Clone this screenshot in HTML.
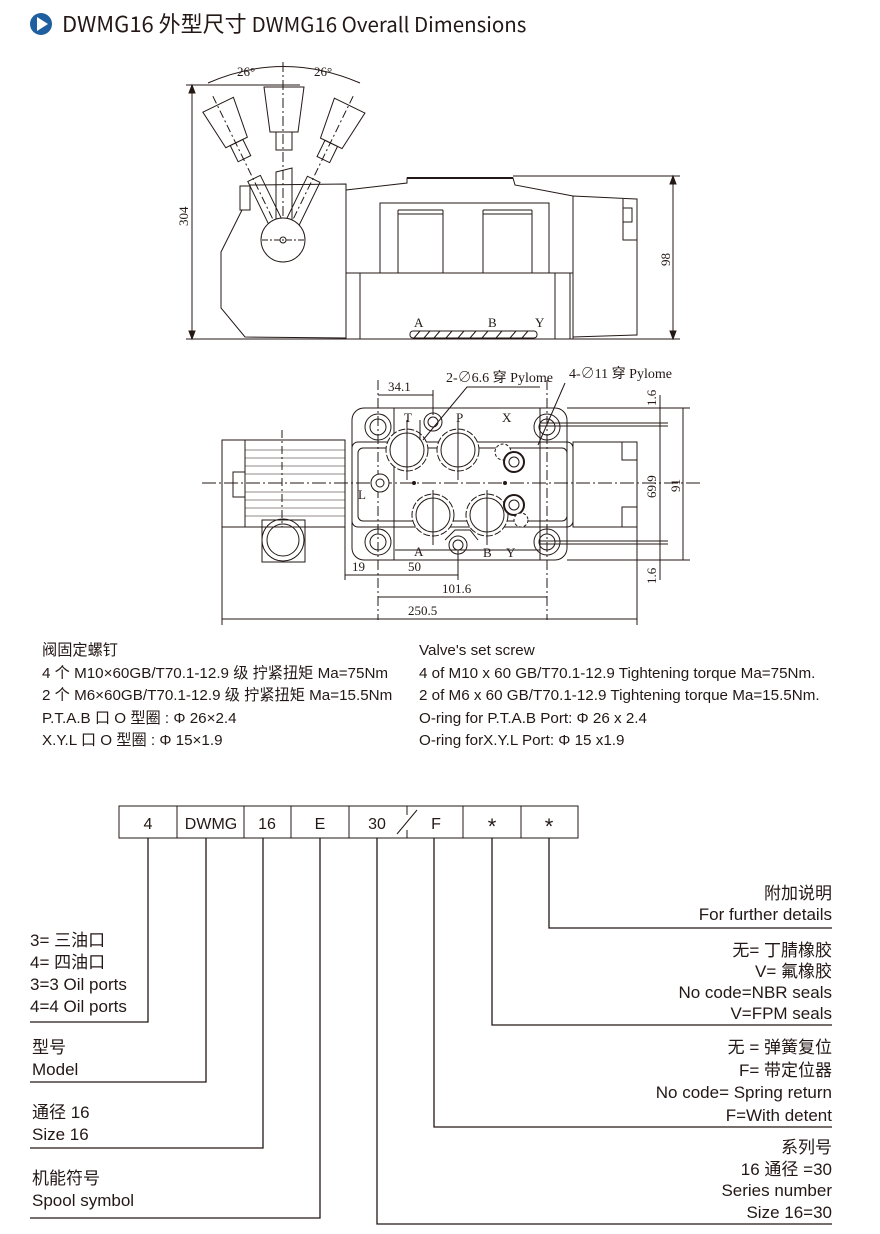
<!DOCTYPE html>
<html><head><meta charset="utf-8"><style>
html,body{margin:0;padding:0;background:#fff;}
body{width:880px;height:1234px;position:relative;overflow:hidden;font-family:"Liberation Sans","Noto Sans CJK SC",sans-serif;color:#231815;}
.t{position:absolute;white-space:nowrap;}
</style></head><body>
<svg width="880" height="1234" style="position:absolute;left:0;top:0" xmlns="http://www.w3.org/2000/svg">
<circle cx="41" cy="24" r="11" fill="#1f5fa0"/>
<polygon points="37,17 37,31 48,24" fill="#fff"/>
<text x="62" y="32" font-size="22" fill="#231815" font-family="Noto Sans CJK SC, sans-serif">DWMG16 外型尺寸 <tspan font-size="20.5">DWMG16 Overall Dimensions</tspan></text>

<g fill="none" stroke="#231815" stroke-width="1" font-family="Liberation Serif, Noto Serif CJK SC, serif">
<line x1="192" y1="85" x2="192" y2="339"/>
<line x1="186" y1="85" x2="300" y2="85"/>
<line x1="186" y1="339" x2="680" y2="339"/>
<polygon points="192,85 189,93 195,93" fill="#231815"/>
<polygon points="192,339 189,331 195,331" fill="#231815"/>
<text x="0" y="0" font-size="13" fill="#231815" stroke="none" transform="translate(188,226) rotate(-90)">304</text>
<path d="M208,83 Q283,50 360,83"/>
<line x1="283" y1="62" x2="283" y2="245" stroke-dasharray="10,3,2,3"/>
<text x="237" y="76" font-size="13" fill="#231815" stroke="none">26°</text>
<text x="314" y="76" font-size="13" fill="#231815" stroke="none">26°</text>
<polygon points="264,87 304,87 298,132 270,132"/>
<polygon points="276,132 292,132 292,150 276,150"/>
<g transform="rotate(-26 283 240)"><polygon points="267,90 301,90 296,132 272,132"/><polygon points="277,132 291,132 291,150 277,150"/><line x1="283" y1="80" x2="283" y2="240" stroke-dasharray="8,3,2,3"/></g>
<g transform="rotate(26 283 240)"><polygon points="267,90 301,90 296,132 272,132"/><polygon points="277,132 291,132 291,150 277,150"/><line x1="283" y1="80" x2="283" y2="240" stroke-dasharray="8,3,2,3"/></g>
<polygon points="276,172 292,168 292,230 276,230"/>
<g transform="rotate(-26 283 240)"><rect x="277" y="172" width="14" height="58"/></g>
<g transform="rotate(26 283 240)"><rect x="277" y="172" width="14" height="58"/></g>
<polyline points="250,185 346,184 346,338 245,337 221,308 221,252 242,210"/>
<rect x="240" y="186" width="10" height="24"/>
<circle cx="283" cy="240" r="22" fill="#fff"/>
<circle cx="283" cy="240" r="3"/>
<line x1="262" y1="240" x2="305" y2="240" stroke-dasharray="6,2,2,2"/>
<polyline points="346,190 407,183 407,178 513,178 515,185 573,196"/>
<line x1="407" y1="178" x2="513" y2="178" stroke-width="2"/>
<rect x="346" y="273" width="227" height="66"/>
<line x1="360" y1="273" x2="360" y2="339"/>
<line x1="555" y1="273" x2="555" y2="339"/>
<line x1="570" y1="273" x2="570" y2="339"/>
<rect x="380" y="203" width="169" height="70"/>
<line x1="398" y1="210" x2="398" y2="273"/><line x1="443" y1="210" x2="443" y2="273"/>
<line x1="483" y1="210" x2="483" y2="273"/><line x1="532" y1="210" x2="532" y2="273"/>
<line x1="398" y1="210" x2="443" y2="210"/><line x1="483" y1="210" x2="532" y2="210"/>
<line x1="398" y1="214" x2="443" y2="214"/><line x1="483" y1="214" x2="532" y2="214"/>
<polygon points="573,196 637,199 637,240 637,335 573,337"/>
<polyline points="623,199 623,240 637,240"/>
<rect x="623" y="208" width="9" height="14"/>
<line x1="513" y1="176" x2="680" y2="176"/>
<line x1="673" y1="176" x2="673" y2="339"/>
<polygon points="673,176 670,184 676,184" fill="#231815"/>
<polygon points="673,339 670,331 676,331" fill="#231815"/>
<text font-size="13" fill="#231815" stroke="none" transform="translate(670,266) rotate(-90)">98</text>
<text x="414" y="327" font-size="13" fill="#231815" stroke="none">A</text>
<text x="488" y="327" font-size="13" fill="#231815" stroke="none">B</text>
<text x="535" y="327" font-size="13" fill="#231815" stroke="none">Y</text>
<rect x="410" y="331" width="127" height="7" rx="3"/>
<path d="M414,338 l6,-7 M424,338 l6,-7 M434,338 l6,-7 M446,338 l6,-7 M458,338 l6,-7 M470,338 l6,-7 M482,338 l6,-7 M496,338 l6,-7 M510,338 l6,-7 M522,338 l6,-7"/>

<line x1="202" y1="483" x2="700" y2="483" stroke-dasharray="14,3,2,3"/>
<rect x="222" y="440" width="123" height="87"/>
<line x1="245" y1="440" x2="245" y2="527"/>
<rect x="233" y="472" width="12" height="25"/>
<path d="M245,450 H345 M245,458 H345 M245,466 H345 M245,474 H345 M245,492 H345 M245,500 H345 M245,508 H345 M245,516 H345" stroke-width="0.6"/>
<line x1="282" y1="430" x2="282" y2="527" stroke-dasharray="8,3,2,3"/>
<rect x="262" y="520" width="43" height="42"/>
<circle cx="283" cy="540" r="21"/><circle cx="283" cy="540" r="16"/>
<rect x="352" y="408" width="215" height="152" rx="12"/>
<rect x="352" y="442" width="221" height="85" rx="6"/>
<rect x="358" y="448" width="209" height="73" rx="5"/>
<line x1="394" y1="408" x2="394" y2="560"/><line x1="540" y1="408" x2="540" y2="560"/>
<circle cx="378" cy="427" r="13"/><circle cx="378" cy="427" r="8"/>
<circle cx="547" cy="427" r="13"/><circle cx="547" cy="427" r="8"/>
<circle cx="378" cy="542" r="13"/><circle cx="378" cy="542" r="8"/>
<circle cx="547" cy="542" r="13"/><circle cx="547" cy="542" r="8"/>
<line x1="378" y1="380" x2="378" y2="620" stroke-dasharray="10,3,2,3"/>
<line x1="547" y1="380" x2="547" y2="620" stroke-dasharray="10,3,2,3"/>
<g fill="#fff">
<circle cx="407" cy="450" r="21" stroke-dasharray="7,2"/><circle cx="407" cy="450" r="17"/>
<circle cx="458" cy="450" r="21" stroke-dasharray="7,2"/><circle cx="458" cy="450" r="17"/>
<circle cx="433" cy="515" r="21" stroke-dasharray="7,2"/><circle cx="433" cy="515" r="17"/>
<circle cx="487" cy="515" r="21" stroke-dasharray="7,2"/><circle cx="487" cy="515" r="17"/>
<circle cx="433" cy="422" r="9"/><circle cx="433" cy="422" r="5"/>
<circle cx="458" cy="545" r="9"/><circle cx="458" cy="545" r="5"/>
<circle cx="380" cy="483" r="9"/><circle cx="380" cy="483" r="4"/>
<circle cx="503" cy="452" r="8" stroke-dasharray="3,2"/>
<circle cx="514" cy="462" r="10" stroke-width="2"/><circle cx="514" cy="462" r="5"/>
<circle cx="514" cy="505" r="10" stroke-width="2"/><circle cx="514" cy="505" r="5"/>
<circle cx="521" cy="520" r="7" stroke-dasharray="3,2"/>
</g>
<path d="M395,550 H540 M420,420 V440 M445,540 L455,530 H470 L478,540"/>
<line x1="407" y1="420" x2="407" y2="480"/><line x1="458" y1="420" x2="458" y2="480"/>
<line x1="433" y1="490" x2="433" y2="545"/><line x1="487" y1="490" x2="487" y2="545"/>
<circle cx="414" cy="483" r="1.5" fill="#231815"/><circle cx="505" cy="483" r="1.5" fill="#231815"/>
<rect x="573" y="442" width="64" height="85"/>
<polyline points="622,442 622,460 637,460"/><polyline points="622,527 622,507 637,507"/>
<text x="404" y="422" font-size="13" fill="#231815" stroke="none">T</text>
<text x="456" y="422" font-size="13" fill="#231815" stroke="none">P</text>
<text x="502" y="422" font-size="13" fill="#231815" stroke="none">X</text>
<text x="358" y="499" font-size="13" fill="#231815" stroke="none">L</text>
<text x="414" y="556" font-size="13" fill="#231815" stroke="none">A</text>
<text x="483" y="557" font-size="13" fill="#231815" stroke="none">B</text>
<text x="506" y="557" font-size="13" fill="#231815" stroke="none">Y</text>
<line x1="378" y1="395" x2="433" y2="395"/>
<text x="388" y="391" font-size="13" fill="#231815" stroke="none">34.1</text>
<line x1="433" y1="390" x2="433" y2="415"/>
<line x1="345" y1="575" x2="458" y2="575"/>
<line x1="345" y1="527" x2="345" y2="580"/><line x1="458" y1="550" x2="458" y2="580"/>
<text x="352" y="571" font-size="13" fill="#231815" stroke="none">19</text>
<text x="408" y="571" font-size="13" fill="#231815" stroke="none">50</text>
<line x1="378" y1="597" x2="547" y2="597"/>
<text x="442" y="593" font-size="13" fill="#231815" stroke="none">101.6</text>
<line x1="222" y1="619" x2="637" y2="619"/>
<line x1="222" y1="527" x2="222" y2="625"/><line x1="637" y1="527" x2="637" y2="625"/>
<text x="408" y="615" font-size="13" fill="#231815" stroke="none">250.5</text>
<line x1="567" y1="408" x2="690" y2="408"/><line x1="567" y1="560" x2="690" y2="560"/>
<line x1="540" y1="423" x2="668" y2="423"/><line x1="540" y1="426" x2="668" y2="426"/>
<line x1="540" y1="541" x2="668" y2="541"/><line x1="540" y1="544" x2="668" y2="544"/>
<line x1="660" y1="395" x2="660" y2="580"/>
<line x1="683" y1="408" x2="683" y2="560"/>
<text font-size="13" fill="#231815" stroke="none" transform="translate(656,406) rotate(-90)">1.6</text>
<text font-size="13" fill="#231815" stroke="none" transform="translate(656,498) rotate(-90)">69.9</text>
<text font-size="13" fill="#231815" stroke="none" transform="translate(680,492) rotate(-90)">91</text>
<text font-size="13" fill="#231815" stroke="none" transform="translate(656,584) rotate(-90)">1.6</text>
<polyline points="540,387 467,387 423,440"/>
<polyline points="565,383 538,445"/>
<text x="446" y="382" font-size="14" fill="#231815" stroke="none">2-∅6.6 <tspan font-family="Noto Sans CJK SC">穿</tspan> Pylome</text>
<text x="569" y="378" font-size="14" fill="#231815" stroke="none">4-∅11 <tspan font-family="Noto Sans CJK SC">穿</tspan> Pylome</text>

<rect x="119" y="806" width="459" height="32"/>
<path d="M177,806V838 M244,806V838 M291,806V838 M349,806V838 M463,806V838 M521,806V838 M407,806V815 M407,830V838 M397,834 L417,810"/>
<g stroke-width="1.3">
<polyline points="148,838 148,1022 30,1022"/>
<polyline points="206,838 206,1082 30,1082"/>
<polyline points="263,838 263,1148 30,1148"/>
<polyline points="320,838 320,1218 30,1218"/>
<polyline points="377,838 377,1224 832,1224"/>
<polyline points="434,838 434,1127 832,1127"/>
<polyline points="492,838 492,1025 832,1025"/>
<polyline points="549,838 549,928 832,928"/>
</g>
</g>
<g font-family="Liberation Sans, sans-serif" font-size="16" fill="#231815" text-anchor="middle">
<text x="148" y="829">4</text><text x="211" y="829">DWMG</text><text x="267" y="829">16</text>
<text x="320" y="829">E</text><text x="377" y="829">30</text><text x="436" y="829">F</text>
<text x="492" y="834" font-size="22">*</text><text x="549" y="834" font-size="22">*</text>
</g>
</svg>

<div class="t" style="left:42px;top:640px;font-size:15.2px;line-height:22.6px;">阀固定螺钉<br>4 个 M10×60GB/T70.1-12.9 级 拧紧扭矩 Ma=75Nm<br>2 个 M6×60GB/T70.1-12.9 级 拧紧扭矩 Ma=15.5Nm<br>P.T.A.B 口 O 型圈 : Φ 26×2.4<br>X.Y.L 口 O 型圈 : Φ 15×1.9</div>
<div class="t" style="left:419px;top:640px;font-size:15.2px;line-height:22.6px;">Valve's set screw<br>4 of M10 x 60 GB/T70.1-12.9 Tightening torque Ma=75Nm.<br>2 of M6 x 60 GB/T70.1-12.9 Tightening torque Ma=15.5Nm.<br>O-ring for P.T.A.B Port: Φ 26 x 2.4<br>O-ring forX.Y.L Port: Φ 15 x1.9</div>

<div class="t" style="left:30px;top:930px;font-size:17px;line-height:22px;">3= 三油口<br>4= 四油口<br>3=3 Oil ports<br>4=4 Oil ports</div>
<div class="t" style="left:32px;top:1037px;font-size:17px;line-height:22px;">型号<br>Model</div>
<div class="t" style="left:32px;top:1102px;font-size:17px;line-height:22px;">通径 16<br>Size 16</div>
<div class="t" style="left:32px;top:1168px;font-size:17px;line-height:22px;">机能符号<br>Spool symbol</div>

<div class="t" style="right:48px;top:883px;text-align:right;font-size:17px;line-height:21px;">附加说明<br>For further details</div>
<div class="t" style="right:48px;top:940px;text-align:right;font-size:17px;line-height:21px;">无= 丁腈橡胶<br>V= 氟橡胶<br>No code=NBR seals<br>V=FPM seals</div>
<div class="t" style="right:48px;top:1037px;text-align:right;font-size:17px;line-height:22.5px;">无 = 弹簧复位<br>F= 带定位器<br>No code= Spring return<br>F=With detent</div>
<div class="t" style="right:48px;top:1137px;text-align:right;font-size:17px;line-height:21.5px;">系列号<br>16 通径 =30<br>Series number<br>Size 16=30</div>
</body></html>
